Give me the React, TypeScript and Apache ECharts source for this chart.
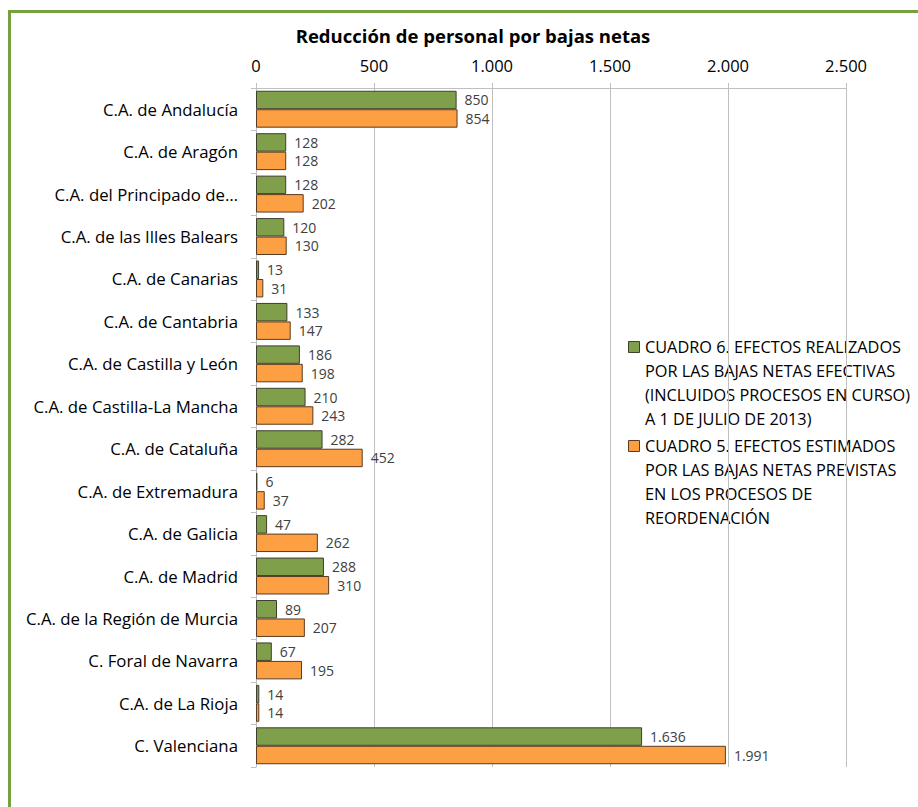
import React, { useEffect, useRef } from "react";
import * as echarts from "echarts";

const categories = [
  "C.A. de Andalucía",
  "C.A. de Aragón",
  "C.A. del Principado de…",
  "C.A. de las Illes Balears",
  "C.A. de Canarias",
  "C.A. de Cantabria",
  "C.A. de Castilla y León",
  "C.A. de Castilla-La Mancha",
  "C.A. de Cataluña",
  "C.A. de Extremadura",
  "C.A. de Galicia",
  "C.A. de Madrid",
  "C.A. de la Región de Murcia",
  "C. Foral de Navarra",
  "C.A. de La Rioja",
  "C. Valenciana",
];

const cuadro6 = [850, 128, 128, 120, 13, 133, 186, 210, 282, 6, 47, 288, 89, 67, 14, 1636];
const cuadro5 = [854, 128, 202, 130, 31, 147, 198, 243, 452, 37, 262, 310, 207, 195, 14, 1991];

const legend6 = [
  "CUADRO 6. EFECTOS REALIZADOS",
  "POR LAS BAJAS NETAS EFECTIVAS",
  "(INCLUIDOS PROCESOS EN CURSO)",
  "A 1 DE JULIO DE 2013)",
];
const legend5 = [
  "CUADRO 5. EFECTOS ESTIMADOS",
  "POR LAS BAJAS NETAS PREVISTAS",
  "EN LOS PROCESOS DE",
  "REORDENACIÓN",
];

const GREEN = "#809F4B";
const ORANGE = "#FDA044";
const FONT = "'Open Sans', 'Noto Sans', sans-serif";

const fmt = (v: number) => String(v).replace(/\B(?=(\d{3})+(?!\d))/g, ".");

export default function App() {
  const ref = useRef<HTMLDivElement>(null);
  useEffect(() => {
    if (!ref.current) return;
    const chart = echarts.init(ref.current, undefined, { renderer: "svg" });
    const label = {
      show: true,
      position: "right",
      distance: 8,
      color: "#404040",
      fontSize: 14,
      fontFamily: FONT,
      formatter: (p: any) => fmt(p.value),
    };
    chart.setOption({
      animation: false,
      backgroundColor: "#ffffff",
      title: {
        text: "Reducción de personal por bajas netas",
        left: 468,
        textAlign: "center",
        top: 21,
        textStyle: { fontSize: 18.5, fontWeight: "bold", color: "#000", fontFamily: FONT },
      },
      grid: { left: 256, right: 72, top: 88, bottom: 40 },
      xAxis: {
        type: "value",
        position: "top",
        min: 0,
        max: 2500,
        interval: 500,
        axisLine: { show: true, lineStyle: { color: "#BFBFBF" } },
        axisTick: { show: true, length: 5, lineStyle: { color: "#BFBFBF" } },
        axisLabel: { color: "#000", fontSize: 16.5, fontFamily: FONT, margin: 14, formatter: (v: number) => fmt(v) },
        splitLine: { show: true, lineStyle: { color: "#BFBFBF" } },
      },
      yAxis: {
        type: "category",
        inverse: true,
        data: categories,
        axisLine: { show: true, lineStyle: { color: "#BFBFBF" } },
        axisTick: { show: true, length: 5, lineStyle: { color: "#BFBFBF" } },
        axisLabel: { color: "#000", fontSize: 16.8, fontFamily: FONT, margin: 18 },
      },
      series: [
        {
          name: legend6.join(" "),
          type: "bar",
          data: cuadro6,
          barGap: "0%",
          barCategoryGap: "13%",
          itemStyle: { color: GREEN, borderColor: "#3F3F2F", borderWidth: 1 },
          label,
        },
        {
          name: legend5.join(" "),
          type: "bar",
          data: cuadro5,
          itemStyle: { color: ORANGE, borderColor: "#5A3A20", borderWidth: 1 },
          label,
        },
      ],
      graphic: [
        {
          type: "rect",
          left: 7,
          top: 9,
          shape: { width: 930, height: 830 },
          style: { fill: "none", stroke: "#77A03F", lineWidth: 3 },
          silent: true,
        },
        {
          type: "rect",
          left: 628,
          top: 341,
          shape: { width: 11, height: 11 },
          style: { fill: GREEN, stroke: "#3F3F2F", lineWidth: 1 },
        },
        {
          type: "text",
          left: 645,
          top: 335,
          style: {
            text: legend6.join("\n"),
            fontSize: 16.3,
            lineHeight: 24,
            fill: "#000",
            fontFamily: FONT,
          },
        },
        {
          type: "rect",
          left: 628,
          top: 440,
          shape: { width: 11, height: 11 },
          style: { fill: ORANGE, stroke: "#5A3A20", lineWidth: 1 },
        },
        {
          type: "text",
          left: 645,
          top: 434,
          style: {
            text: legend5.join("\n"),
            fontSize: 16.3,
            lineHeight: 24,
            fill: "#000",
            fontFamily: FONT,
          },
        },
      ],
    });
    return () => chart.dispose();
  }, []);
  return (
    <div
      ref={ref}
      style={{ position: "fixed", left: 0, top: 0, width: 918, height: 807 }}
    />
  );
}
